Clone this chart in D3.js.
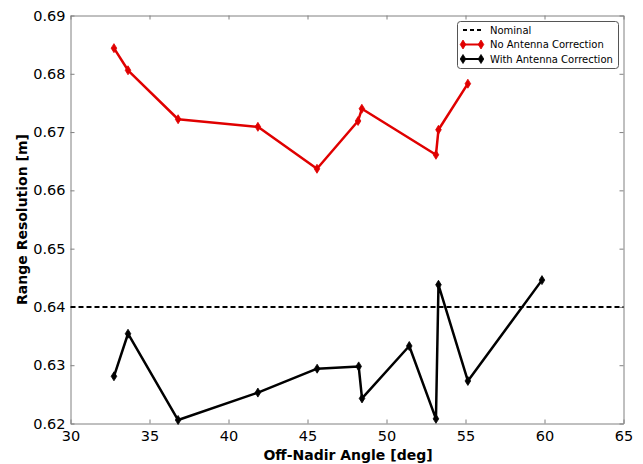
<!DOCTYPE html>
<html><head><meta charset="utf-8">
<script src="https://cdn.jsdelivr.net/npm/d3@7"></script>
<style>body{margin:0;background:#fff}svg{display:block;font-family:"DejaVu Sans",sans-serif}</style>
</head><body><svg id="c" width="643" height="464"></svg>
<script>
const xTicks=[30,35,40,45,50,55,60,65];
const yTicks=[0.62,0.63,0.64,0.65,0.66,0.67,0.68,0.69];
const noCorrAngle=[32.75,33.64,36.81,41.86,45.60,48.20,48.44,53.13,53.29,55.15];
const noCorrRes=[0.6844,0.6806,0.6722,0.6709,0.6637,0.6719,0.6740,0.6661,0.6704,0.6783];
const withCorrAngle=[32.75,33.64,36.81,41.86,45.61,48.24,48.45,51.44,53.13,53.29,55.15,59.84];
const withCorrRes=[0.6281,0.6354,0.6206,0.6253,0.6294,0.6298,0.6243,0.6333,0.6208,0.6438,0.6273,0.6446];
const nominal=0.64;
const labels={x:"Off-Nadir Angle [deg]",y:"Range Resolution [m]",nom:"Nominal",nc:"No Antenna Correction",wc:"With Antenna Correction"};

const svg=d3.select("#c");
const L=70.5,R=623.5,T=15.5,B=423.5;
const x=d3.scaleLinear().domain([30,65]).range([L,R]);
const y=d3.scaleLinear().domain([0.62,0.69]).range([B,T]);
const axCol="#808080";

const gB=svg.append("g").attr("transform",`translate(0,${B})`).call(d3.axisBottom(x).tickValues(xTicks).tickSizeInner(-4).tickSizeOuter(0).tickFormat(d3.format("d")));
const gT=svg.append("g").attr("transform",`translate(0,${T})`).call(d3.axisTop(x).tickValues(xTicks).tickSizeInner(-4).tickSizeOuter(0).tickFormat(""));
const gL=svg.append("g").attr("transform",`translate(${L},0)`).call(d3.axisLeft(y).tickValues(yTicks).tickSizeInner(-4).tickSizeOuter(0).tickPadding(5).tickFormat(d3.format(".2f")));
const gR=svg.append("g").attr("transform",`translate(${R},0)`).call(d3.axisRight(y).tickValues(yTicks).tickSizeInner(-4).tickSizeOuter(0).tickFormat(""));
[gB,gT,gL,gR].forEach(g=>{g.selectAll("path,line").attr("stroke",axCol).attr("stroke-width",1);g.selectAll("text").attr("font-size",14.5).attr("fill","#000").attr("font-family","DejaVu Sans");});
gB.selectAll("text").attr("y",17.5).attr("dy",0);

svg.append("line").attr("x1",x(30)).attr("x2",x(65)).attr("y1",y(nominal)).attr("y2",y(nominal))
  .attr("stroke","#000").attr("stroke-width",2).attr("stroke-dasharray","5,3");

const diamond=d3.symbol().type({draw(ctx,size){ctx.moveTo(0,-4.5);ctx.lineTo(2.8,0);ctx.lineTo(0,4.5);ctx.lineTo(-2.8,0);ctx.closePath();}});
function series(ax,ay,col){
  const pts=ax.map((v,i)=>[v,ay[i]]);
  svg.append("path").datum(pts).attr("fill","none").attr("stroke",col).attr("stroke-width",2.5).attr("stroke-linejoin","round")
    .attr("d",d3.line().x(d=>x(d[0])).y(d=>y(d[1])));
  svg.append("g").selectAll("path").data(pts).join("path").attr("d",diamond())
    .attr("transform",d=>`translate(${x(d[0])},${y(d[1])})`).attr("fill",col).attr("stroke",col).attr("stroke-width",0.8);
}
series(noCorrAngle,noCorrRes,"#e00000");
series(withCorrAngle,withCorrRes,"#000");

svg.append("text").attr("x",348).attr("y",460).attr("text-anchor","middle").attr("font-size",14).attr("font-weight","bold").text(labels.x);
svg.append("text").attr("transform",`translate(27,${(T+B)/2}) rotate(-90)`).attr("text-anchor","middle").attr("font-size",14).attr("font-weight","bold").text(labels.y);

const lg=svg.append("g");
lg.append("rect").attr("x",457.5).attr("y",21.5).attr("width",161).attr("height",47).attr("rx",3).attr("fill","#fff").attr("stroke","#555").attr("stroke-width",1);
const rows=[{t:labels.nom,c:"#000",dash:"4,3",m:false},{t:labels.nc,c:"#e00000",m:true},{t:labels.wc,c:"#000",m:true}];
rows.forEach((r,i)=>{
  const yy=30+i*14.5;
  lg.append("line").attr("x1",463).attr("x2",481).attr("y1",yy).attr("y2",yy).attr("stroke",r.c).attr("stroke-width",2).attr("stroke-dasharray",r.dash||null);
  if(r.m){[463,481].forEach(xx=>lg.append("path").attr("d",diamond()).attr("transform",`translate(${xx},${yy})`).attr("fill",r.c).attr("stroke",r.c).attr("stroke-width",0.8));}
  lg.append("text").attr("x",490).attr("y",yy).attr("dy","0.35em").attr("font-size",10).attr("textLength",null).text(r.t);
});
</script></body></html>
